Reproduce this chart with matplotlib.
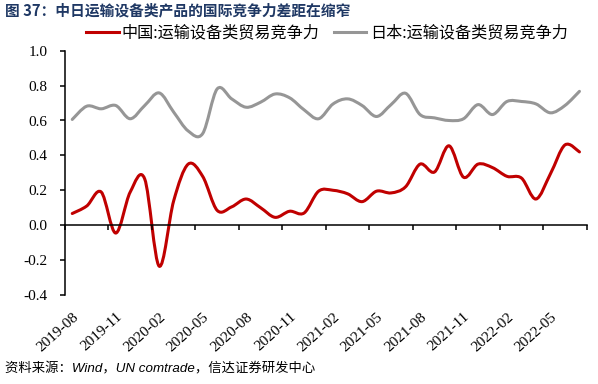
import numpy as np
import matplotlib
matplotlib.use("Agg")
from matplotlib import pyplot as plt
from matplotlib.path import Path
from matplotlib.patches import PathPatch
from matplotlib.lines import Line2D

# monthly values, 2019-08 .. 2022-07
china = [0.067, 0.11, 0.19, -0.045, 0.19, 0.265, -0.235, 0.14, 0.35, 0.28,
         0.085, 0.105, 0.15, 0.10, 0.045, 0.08, 0.07, 0.195, 0.20, 0.18,
         0.135, 0.195, 0.185, 0.22, 0.35, 0.305, 0.455, 0.275, 0.35, 0.33,
         0.28, 0.27, 0.15, 0.295, 0.46, 0.42]
japan = [0.606, 0.682, 0.667, 0.686, 0.61, 0.686, 0.758, 0.648, 0.54, 0.525,
         0.781, 0.724, 0.676, 0.705, 0.752, 0.73, 0.661, 0.61, 0.695, 0.724,
         0.686, 0.623, 0.691, 0.756, 0.634, 0.615, 0.60, 0.61, 0.691, 0.634,
         0.709, 0.709, 0.695, 0.644, 0.686, 0.767]
tick_labels = ["2019-08", "2019-11", "2020-02", "2020-05", "2020-08", "2020-11",
               "2021-02", "2021-05", "2021-08", "2021-11", "2022-02", "2022-05"]
yticks = [-0.4, -0.2, 0.0, 0.2, 0.4, 0.6, 0.8, 1.0]
names = ["中国:运输设备类贸易竞争力", "日本:运输设备类贸易竞争力"]
colors = ["#C00000", "#969696"]

title = "图 37：中日运输设备类产品的国际竞争力差距在缩窄"
source = "资料来源：Wind，UN comtrade，信达证券研发中心"

cjk = ["Noto Sans CJK SC", "DejaVu Sans"]
serif = "Liberation Serif"


def smooth_path(vals):
    # excel-like smoothed line: cubic bezier through every point
    pts = np.column_stack([np.arange(len(vals), dtype=float), vals])
    n = len(pts)
    verts = [pts[0]]
    codes = [Path.MOVETO]
    for i in range(n - 1):
        p0 = pts[max(i - 1, 0)]
        p1 = pts[i]
        p2 = pts[i + 1]
        p3 = pts[min(i + 2, n - 1)]
        verts += [p1 + (p2 - p0) / 6, p2 - (p3 - p1) / 6, p2]
        codes += [Path.CURVE4] * 3
    return Path(verts, codes)


fig = plt.figure(figsize=(5.98, 3.84), dpi=100)
ax = fig.add_axes([65 / 598, 1 - 295 / 384, (586.7 - 65) / 598, (295 - 50.7) / 384])

for vals, c in zip([china, japan], colors):
    ax.add_patch(PathPatch(smooth_path(vals), fill=False, edgecolor=c, lw=2.2,
                           capstyle="round", joinstyle="round"))

ax.set_xlim(-0.5, len(china) - 0.5)
ax.set_ylim(-0.4, 1.0)

ax.spines["top"].set_visible(False)
ax.spines["right"].set_visible(False)
ax.spines["bottom"].set_position(("data", 0))
ax.spines["bottom"].set_linewidth(1.1)
ax.spines["left"].set_linewidth(1.1)

ax.set_xticks(np.arange(-0.5, len(china), 3))
ax.tick_params(axis="x", direction="out", length=3.5, width=1.1, labelbottom=False)
ax.set_yticks(yticks, labels=["%.1f" % v for v in yticks])
ax.tick_params(axis="y", direction="out", length=3.5, width=1.1, pad=9)
for t in ax.get_yticklabels():
    t.set_fontfamily(serif)
    t.set_fontsize(11)

sec = ax.secondary_xaxis("bottom")
sec.spines["bottom"].set_visible(False)
sec.set_xticks(np.arange(0, len(china), 3), labels=tick_labels)
sec.tick_params(length=0, pad=11)
for t in sec.get_xticklabels():
    t.set_fontfamily(serif)
    t.set_fontsize(11)
    t.set_rotation(42)
    t.set_ha("right")
    t.set_va("top")
    t.set_rotation_mode("anchor")

handles = [Line2D([], [], color=c, lw=2.2) for c in colors]
fig.legend(handles, names, loc="center", bbox_to_anchor=(327 / 598, 1 - 33 / 384),
           ncol=2, frameon=False, handlelength=2.0, handletextpad=0.2,
           columnspacing=0.9, prop={"family": cjk, "size": 11.6})

fig.text(5 / 598, 1 - 10 / 384, title, ha="left", va="center", color="#1F3864",
         fontsize=10.6, fontweight="bold", family=cjk)
fig.text(5 / 598, 1 - 369 / 384, source, ha="left", va="center", color="black",
         fontsize=9.6, style="italic", family=["Liberation Sans", "Noto Sans CJK SC"])

fig.savefig("out.png", dpi=100)
